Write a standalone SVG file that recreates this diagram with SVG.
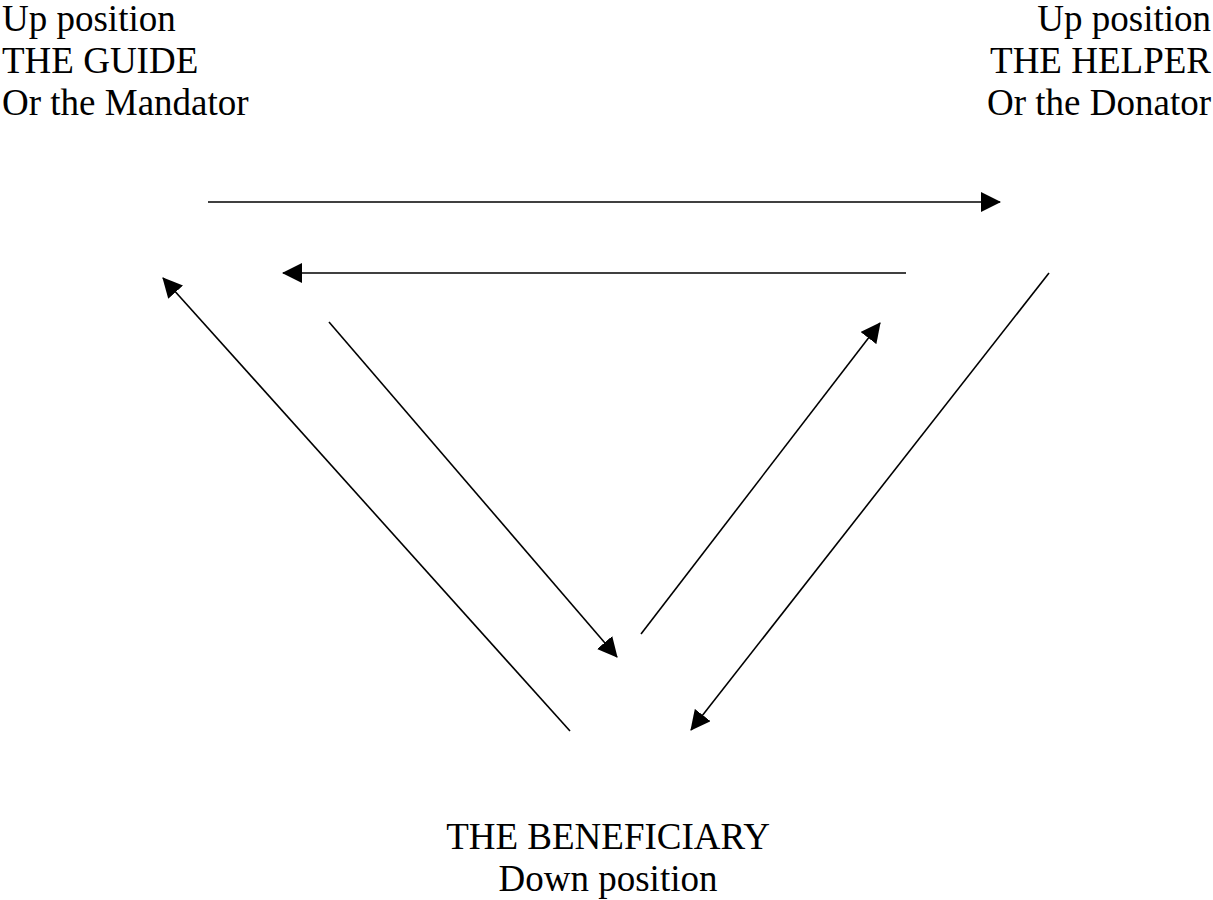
<svg xmlns="http://www.w3.org/2000/svg" width="1213" height="900" viewBox="0 0 1213 900">
<defs>
<style>
.t{font-family:"Liberation Serif","Times New Roman",serif;font-size:37px;fill:#000}
.c{stroke:#000;stroke-width:1.6;fill:none;marker-end:url(#ah)}
</style>
<marker id="ah" markerUnits="userSpaceOnUse" markerWidth="20" markerHeight="20" refX="19" refY="10" orient="auto" viewBox="0 0 20 20">
<path d="M0,0 L20,10 L0,20 z" fill="#000"/>
</marker>
</defs>
<rect width="1213" height="900" fill="#fff"/>
<g id="guide">
<text class="t" x="2" y="31">Up position</text>
<text class="t" x="2" y="73">THE GUIDE</text>
<text class="t" x="2" y="115">Or the Mandator</text>
</g>
<g id="helper">
<text class="t" x="1211" y="31" text-anchor="end">Up position</text>
<text class="t" x="1211" y="73" text-anchor="end">THE HELPER</text>
<text class="t" x="1211" y="115" text-anchor="end">Or the Donator</text>
</g>
<g id="beneficiary">
<text class="t" x="608" y="849" text-anchor="middle">THE BENEFICIARY</text>
<text class="t" x="608" y="891" text-anchor="middle">Down position</text>
</g>
<g id="connectors">
<line class="c" x1="208" y1="202" x2="1000" y2="202"/>
<line class="c" x1="906" y1="273" x2="283" y2="273"/>
<line class="c" x1="570" y1="731" x2="163" y2="278"/>
<line class="c" x1="329" y1="322" x2="617" y2="657"/>
<line class="c" x1="641" y1="634" x2="880" y2="323"/>
<line class="c" x1="1049" y1="273" x2="691" y2="730"/>
</g>
</svg>
